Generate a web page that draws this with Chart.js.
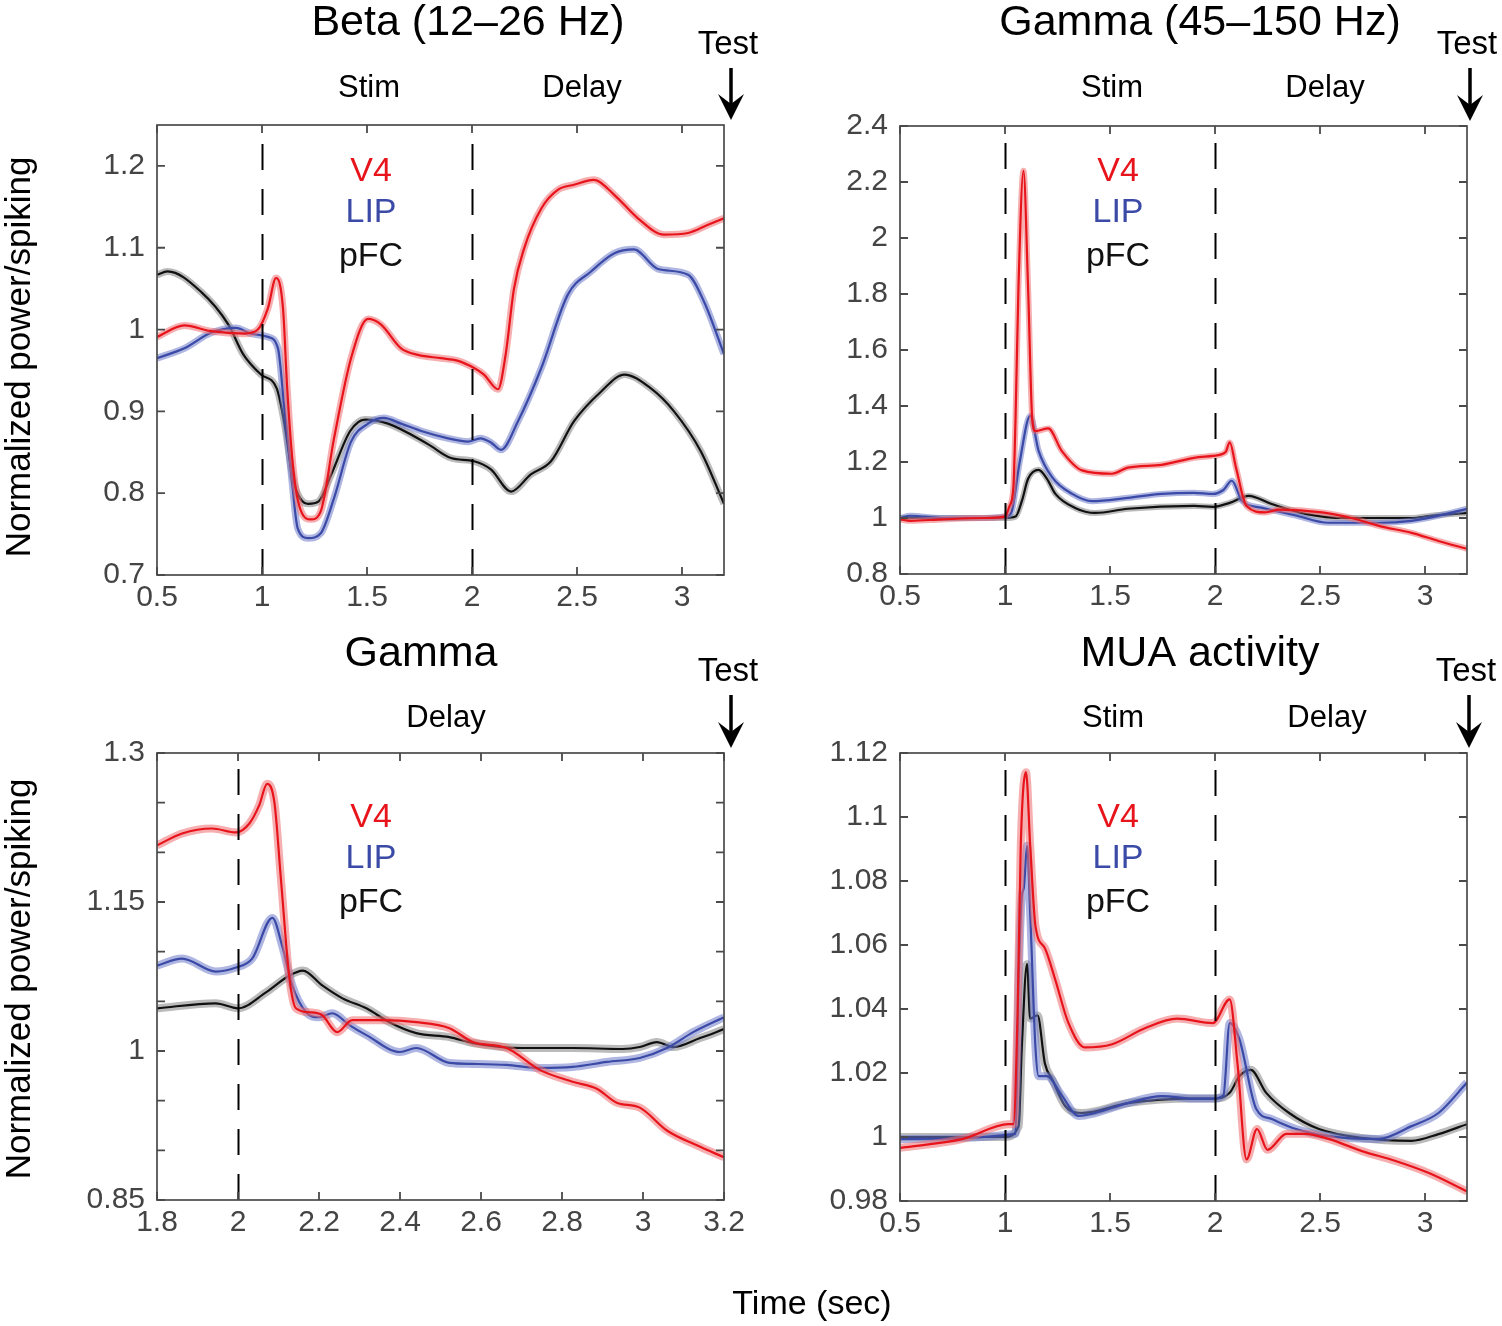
<!DOCTYPE html>
<html>
<head>
<meta charset="utf-8">
<script src="https://cdn.jsdelivr.net/npm/chart.js@4.4.1/dist/chart.umd.min.js"></script>
<style>
  body { margin: 0; background: #fff; }
  #wrap { position: relative; width: 1502px; height: 1326px; }
  #wrap canvas { position: absolute; left: 0; top: 0; }
</style>
</head>
<body>
<div id="wrap">
  <canvas id="beta" width="1502" height="1326"></canvas>
  <canvas id="gammaHi" width="1502" height="1326"></canvas>
  <canvas id="gammaDelay" width="1502" height="1326"></canvas>
  <canvas id="mua" width="1502" height="1326"></canvas>
</div>
<script>
// ---- data (time in sec, normalized power/spiking) ----

// Beta (12-26 Hz)
const betaV4T = [0.5, 0.63, 0.757, 0.916, 0.98, 1.028, 1.067, 1.1, 1.12, 1.15, 1.186, 1.233, 1.28, 1.343, 1.424, 1.505, 1.567, 1.662, 1.743, 1.852, 1.93, 2.01, 2.057, 2.124, 2.16, 2.2, 2.248, 2.33, 2.41, 2.486, 2.58, 2.676, 2.79, 2.914, 3.029, 3.124, 3.2];
const betaV4 = [0.991, 1.005, 0.998, 0.995, 1.0, 1.026, 1.063, 1.026, 0.928, 0.827, 0.778, 0.768, 0.778, 0.867, 0.965, 1.013, 1.006, 0.977, 0.969, 0.965, 0.962, 0.953, 0.945, 0.927, 0.969, 1.05, 1.099, 1.148, 1.171, 1.177, 1.183, 1.165, 1.136, 1.116, 1.118, 1.128, 1.136];
const betaLipT = [0.5, 0.63, 0.757, 0.876, 0.948, 1.028, 1.076, 1.105, 1.138, 1.17, 1.22, 1.28, 1.343, 1.424, 1.505, 1.58, 1.662, 1.77, 1.886, 1.98, 2.04, 2.09, 2.138, 2.219, 2.33, 2.457, 2.567, 2.676, 2.771, 2.886, 3.029, 3.105, 3.2];
const betaLip = [0.965, 0.977, 0.996, 1.002, 0.995, 0.991, 0.977, 0.908, 0.827, 0.757, 0.745, 0.751, 0.794, 0.863, 0.885, 0.892, 0.885, 0.875, 0.867, 0.863, 0.867, 0.862, 0.853, 0.888, 0.953, 1.043, 1.071, 1.093, 1.098, 1.074, 1.067, 1.034, 0.97];
const betaPfcT = [0.5, 0.55, 0.71, 0.84, 0.91, 0.995, 1.07, 1.105, 1.15, 1.22, 1.27, 1.33, 1.42, 1.49, 1.6, 1.79, 1.9, 2.01, 2.09, 2.186, 2.28, 2.376, 2.486, 2.614, 2.725, 2.852, 2.962, 3.09, 3.2];
const betaPfc = [1.067, 1.071, 1.046, 1.006, 0.97, 0.945, 0.928, 0.888, 0.815, 0.787, 0.79, 0.823, 0.876, 0.89, 0.885, 0.86, 0.843, 0.839, 0.829, 0.802, 0.823, 0.839, 0.888, 0.924, 0.945, 0.928, 0.9, 0.851, 0.787];

// Gamma (45-150 Hz)
const gammaV4T = [0.5, 0.55, 0.7, 0.9, 1.0, 1.02, 1.04, 1.05, 1.064, 1.088, 1.11, 1.13, 1.145, 1.206, 1.27, 1.367, 1.51, 1.585, 1.746, 1.9, 1.99, 2.05, 2.07, 2.1, 2.15, 2.24, 2.305, 2.51, 2.65, 2.78, 2.936, 3.064, 3.2];
const gammaV4 = [0.995, 0.99, 0.995, 1.0, 1.005, 1.04, 1.11, 1.35, 1.82, 2.24, 1.82, 1.35, 1.31, 1.32, 1.24, 1.17, 1.158, 1.18, 1.19, 1.215, 1.222, 1.235, 1.27, 1.18, 1.043, 1.02, 1.03, 1.02, 1.0, 0.972, 0.947, 0.918, 0.89];
const gammaLipT = [0.5, 0.55, 0.7, 0.9, 1.0, 1.03, 1.07, 1.12, 1.16, 1.225, 1.32, 1.415, 1.585, 1.746, 1.9, 1.99, 2.04, 2.08, 2.13, 2.22, 2.38, 2.54, 2.78, 2.936, 3.064, 3.2];
const gammaLip = [1.0, 1.008, 1.0, 1.0, 1.005, 1.02, 1.2, 1.365, 1.24, 1.145, 1.086, 1.06, 1.072, 1.086, 1.09, 1.086, 1.1, 1.133, 1.06, 1.037, 1.01, 0.983, 0.983, 0.99, 1.008, 1.033];
const gammaPfcT = [0.5, 0.7, 0.9, 1.0, 1.05, 1.08, 1.11, 1.16, 1.2, 1.24, 1.334, 1.43, 1.585, 1.9, 1.99, 2.07, 2.16, 2.27, 2.43, 2.62, 2.936, 3.03, 3.2];
const gammaPfc = [1.0, 1.0, 1.0, 1.0, 1.005, 1.06, 1.14, 1.172, 1.14, 1.086, 1.036, 1.018, 1.033, 1.043, 1.04, 1.054, 1.079, 1.05, 1.015, 1.0, 1.0, 1.008, 1.018];

// Gamma, delay period
const delayV4T = [1.8, 1.862, 1.936, 1.995, 2.028, 2.052, 2.072, 2.09, 2.106, 2.127, 2.143, 2.176, 2.208, 2.245, 2.282, 2.357, 2.44, 2.522, 2.58, 2.663, 2.745, 2.826, 2.886, 2.935, 2.992, 3.059, 3.133, 3.2];
const delayV4 = [1.207, 1.219, 1.224, 1.22, 1.229, 1.247, 1.269, 1.25, 1.173, 1.073, 1.043, 1.039, 1.036, 1.019, 1.031, 1.031, 1.029, 1.023, 1.009, 1.003, 0.981, 0.969, 0.962, 0.948, 0.943, 0.92, 0.905, 0.893];
const delayLipT = [1.8, 1.862, 1.945, 1.995, 2.035, 2.085, 2.109, 2.134, 2.168, 2.2, 2.233, 2.275, 2.317, 2.4, 2.44, 2.522, 2.58, 2.663, 2.745, 2.826, 2.911, 2.992, 3.059, 3.124, 3.2];
const delayLip = [1.086, 1.093, 1.08, 1.084, 1.093, 1.134, 1.106, 1.066, 1.039, 1.034, 1.038, 1.026, 1.016, 0.999, 1.003, 0.988, 0.987, 0.986, 0.983, 0.984, 0.989, 0.993, 1.003, 1.019, 1.034];
const delayPfcT = [1.8, 1.945, 2.0, 2.069, 2.127, 2.16, 2.208, 2.258, 2.317, 2.374, 2.44, 2.522, 2.58, 2.703, 2.826, 2.95, 2.992, 3.034, 3.075, 3.141, 3.2];
const delayPfc = [1.043, 1.048, 1.043, 1.059, 1.076, 1.081, 1.066, 1.053, 1.043, 1.029, 1.018, 1.014, 1.008, 1.003, 1.003, 1.002, 1.004, 1.009, 1.004, 1.013, 1.022];

// MUA activity
const muaV4T = [0.5, 0.8, 1.017, 1.04, 1.06, 1.075, 1.1, 1.12, 1.145, 1.19, 1.24, 1.3, 1.38, 1.51, 1.666, 1.82, 1.99, 2.07, 2.107, 2.15, 2.2, 2.25, 2.34, 2.43, 2.54, 2.7, 2.86, 3.016, 3.2];
const muaV4 = [0.9966, 0.9994, 1.004, 1.004, 1.039, 1.091, 1.114, 1.091, 1.066, 1.059, 1.049, 1.036, 1.028, 1.029, 1.034, 1.037, 1.0356, 1.043, 1.023, 0.993, 1.0025, 0.996, 1.001, 1.001, 0.9994, 0.9956, 0.9925, 0.9888, 0.983];
const muaLipT = [0.5, 1.05, 1.065, 1.08, 1.09, 1.105, 1.12, 1.145, 1.16, 1.2, 1.27, 1.35, 1.43, 1.585, 1.746, 1.9, 1.99, 2.04, 2.07, 2.116, 2.196, 2.27, 2.386, 2.54, 2.78, 2.936, 3.064, 3.2];
const muaLip = [0.9994, 1.001, 1.049, 1.075, 1.078, 1.091, 1.07, 1.028, 1.019, 1.019, 1.013, 1.0066, 1.0075, 1.0106, 1.0128, 1.012, 1.012, 1.013, 1.0356, 1.0306, 1.0088, 1.0056, 1.0025, 1.0003, 0.9994, 1.0034, 1.0075, 1.017];
const muaPfcT = [0.5, 1.0, 1.065, 1.08, 1.105, 1.12, 1.155, 1.19, 1.225, 1.287, 1.367, 1.585, 1.9, 1.99, 2.07, 2.116, 2.17, 2.244, 2.353, 2.495, 2.7, 2.936, 3.064, 3.2];
const muaPfc = [1.0, 1.0, 1.0034, 1.028, 1.054, 1.037, 1.038, 1.023, 1.018, 1.0097, 1.0075, 1.0106, 1.012, 1.012, 1.0138, 1.019, 1.021, 1.0138, 1.0075, 1.0025, 0.9997, 0.9988, 1.0009, 1.004];

const areaNames = ['V4', 'LIP', 'pFC'];
const yLabeledTicksDelay = [1.3, 1.15, 1, 0.85];

const FONT = '"Liberation Sans", Arial, Helvetica, sans-serif';
const colors = {
  V4: { line: '#e8141c', band: 'rgba(238,110,112,0.55)' },
  LIP: { line: '#3a4aa6', band: 'rgba(110,122,200,0.55)' },
  pFC: { line: '#111111', band: 'rgba(120,120,120,0.5)' }
};

function pts(t, v) {
  return t.map((x, i) => ({ x: x, y: v[i] }));
}

function fmt(v) {
  return String(parseFloat(v.toFixed(2)));
}

function seriesSets(list, bandWidth) {
  // list order: V4, LIP, pFC -> V4 drawn on top
  const out = [];
  list.forEach((s, i) => {
    const c = colors[areaNames[i]];
    out.push({
      label: areaNames[i] + ' sem', data: pts(s[0], s[1]),
      borderColor: c.band, borderWidth: bandWidth, order: i * 2 + 1
    });
    out.push({
      label: areaNames[i], data: pts(s[0], s[1]),
      borderColor: c.line, borderWidth: 2.2, order: i * 2
    });
  });
  return out;
}

// draws box, inside ticks, dashed event lines and all text labels
const panelDecor = {
  id: 'panelDecor',
  afterDraw(chart, args, o) {
    const ctx = chart.ctx;
    const a = chart.chartArea;
    const xs = chart.scales.x, ys = chart.scales.y;
    ctx.save();

    // event lines
    ctx.strokeStyle = '#000';
    ctx.lineWidth = 2;
    ctx.setLineDash([26, 19]);
    o.events.forEach(ev => {
      const px = Math.round(xs.getPixelForValue(ev)) + 0.5;
      ctx.beginPath();
      ctx.moveTo(px, a.bottom);
      ctx.lineTo(px, a.top);
      ctx.stroke();
    });
    ctx.setLineDash([]);

    // box and inside ticks
    ctx.strokeStyle = '#4a4a4a';
    ctx.lineWidth = 1.7;
    ctx.strokeRect(a.left, a.top, a.right - a.left, a.bottom - a.top);
    ctx.lineWidth = 1.8;
    ctx.beginPath();
    xs.ticks.forEach(t => {
      const px = xs.getPixelForValue(t.value);
      ctx.moveTo(px, a.bottom); ctx.lineTo(px, a.bottom - 8);
      ctx.moveTo(px, a.top); ctx.lineTo(px, a.top + 8);
    });
    ys.ticks.forEach(t => {
      const py = ys.getPixelForValue(t.value);
      ctx.moveTo(a.left, py); ctx.lineTo(a.left + 8, py);
      ctx.moveTo(a.right, py); ctx.lineTo(a.right - 8, py);
    });
    ctx.stroke();

    ctx.textAlign = 'center';
    ctx.textBaseline = 'middle';

    // panel title
    ctx.fillStyle = '#000';
    ctx.font = '43px ' + FONT;
    ctx.fillText(o.title, o.titleX, o.titleY);

    // period labels
    ctx.font = '31px ' + FONT;
    o.periods.forEach(p => ctx.fillText(p[0], p[1], o.periodY));

    // test arrow
    ctx.font = '33px ' + FONT;
    ctx.fillText('Test', o.testX - 3, o.testY);
    const ax = o.testX;
    ctx.strokeStyle = '#000';
    ctx.lineWidth = 3.5;
    ctx.beginPath();
    ctx.moveTo(ax, o.testY + 23);
    ctx.lineTo(ax, a.top - 16);
    ctx.stroke();
    ctx.beginPath();
    ctx.moveTo(ax - 13, a.top - 31);
    ctx.lineTo(ax, a.top - 21);
    ctx.lineTo(ax + 13, a.top - 31);
    ctx.lineTo(ax, a.top - 5);
    ctx.closePath();
    ctx.fill();

    // area legend
    ctx.font = '34px ' + FONT;
    areaNames.forEach((n, i) => {
      ctx.fillStyle = colors[n].line;
      ctx.fillText(n, o.legendX, o.legendY[i]);
    });

    // axis titles
    ctx.fillStyle = '#000';
    if (o.yTitle) {
      ctx.save();
      ctx.translate(20, o.yTitleY);
      ctx.rotate(-Math.PI / 2);
      ctx.font = '35px ' + FONT;
      ctx.fillText(o.yTitle, 0, 0);
      ctx.restore();
    }
    if (o.xTitle) {
      ctx.font = '34px ' + FONT;
      ctx.fillText(o.xTitle, 812, 1305);
    }
    ctx.restore();
  }
};

function makePanel(id, series, cfg) {
  new Chart(document.getElementById(id), {
    type: 'line',
    data: { datasets: seriesSets(series, cfg.band) },
    plugins: [panelDecor],
    options: {
      responsive: false,
      animation: false,
      elements: {
        point: { radius: 0 },
        line: { cubicInterpolationMode: 'monotone', fill: false }
      },
      layout: { padding: cfg.padding },
      plugins: {
        legend: { display: false },
        tooltip: { enabled: false },
        panelDecor: cfg.decor
      },
      scales: {
        x: {
          type: 'linear', min: cfg.xMin, max: 3.2,
          grid: { display: false }, border: { display: false },
          afterFit: s => { s.height = 50; },
          ticks: {
            stepSize: cfg.xStep, includeBounds: false, autoSkip: false, maxRotation: 0,
            padding: -3, color: '#444', font: { family: FONT, size: 30 },
            callback: v => fmt(v)
          }
        },
        y: {
          min: cfg.yMin, max: cfg.yMax,
          grid: { display: false }, border: { display: false },
          afterFit: s => { s.width = 100; },
          ticks: {
            stepSize: cfg.yStep, includeBounds: false, autoSkip: false,
            padding: 4, color: '#444', font: { family: FONT, size: 30 },
            callback: cfg.yLabel || (v => fmt(v))
          }
        }
      }
    }
  });
}

document.addEventListener('DOMContentLoaded', function () {

  makePanel('beta', [[betaV4T, betaV4], [betaLipT, betaLip], [betaPfcT, betaPfc]], {
    padding: { left: 57, top: 125, right: 778, bottom: 701 },
    xMin: 0.5, xStep: 0.5, yMin: 0.7, yMax: 1.25, yStep: 0.1, band: 7,
    decor: {
      events: [1, 2], title: 'Beta (12\u201326 Hz)', titleX: 468, titleY: 23,
      periods: [['Stim', 369], ['Delay', 582]], periodY: 88,
      testX: 731, testY: 45, legendX: 371, legendY: [172, 213, 257],
      yTitle: 'Normalized power/spiking', yTitleY: 357
    }
  });

  makePanel('gammaHi', [[gammaV4T, gammaV4], [gammaLipT, gammaLip], [gammaPfcT, gammaPfc]], {
    padding: { left: 800, top: 126, right: 35, bottom: 702 },
    xMin: 0.5, xStep: 0.5, yMin: 0.8, yMax: 2.4, yStep: 0.2, band: 6,
    decor: {
      events: [1, 2], title: 'Gamma (45\u2013150 Hz)', titleX: 1200, titleY: 23,
      periods: [['Stim', 1112], ['Delay', 1325]], periodY: 88,
      testX: 1470, testY: 45, legendX: 1118, legendY: [172, 213, 257]
    }
  });

  makePanel('gammaDelay', [[delayV4T, delayV4], [delayLipT, delayLip], [delayPfcT, delayPfc]], {
    padding: { left: 57, top: 753, right: 778, bottom: 76 },
    xMin: 1.8, xStep: 0.2, yMin: 0.85, yMax: 1.3, yStep: 0.05, band: 8,
    yLabel: v => (yLabeledTicksDelay.some(l => Math.abs(l - v) < 1e-6) ? fmt(v) : ''),
    decor: {
      events: [2], title: 'Gamma', titleX: 421, titleY: 654,
      periods: [['Delay', 446]], periodY: 718,
      testX: 731, testY: 672, legendX: 371, legendY: [818, 859, 903],
      yTitle: 'Normalized power/spiking', yTitleY: 979
    }
  });

  makePanel('mua', [[muaV4T, muaV4], [muaLipT, muaLip], [muaPfcT, muaPfc]], {
    padding: { left: 800, top: 753, right: 35, bottom: 75 },
    xMin: 0.5, xStep: 0.5, yMin: 0.98, yMax: 1.12, yStep: 0.02, band: 8,
    decor: {
      events: [1, 2], title: 'MUA activity', titleX: 1200, titleY: 654,
      periods: [['Stim', 1113], ['Delay', 1327]], periodY: 718,
      testX: 1469, testY: 672, legendX: 1118, legendY: [818, 859, 903],
      xTitle: 'Time (sec)'
    }
  });
});
</script>
</body>
</html>
